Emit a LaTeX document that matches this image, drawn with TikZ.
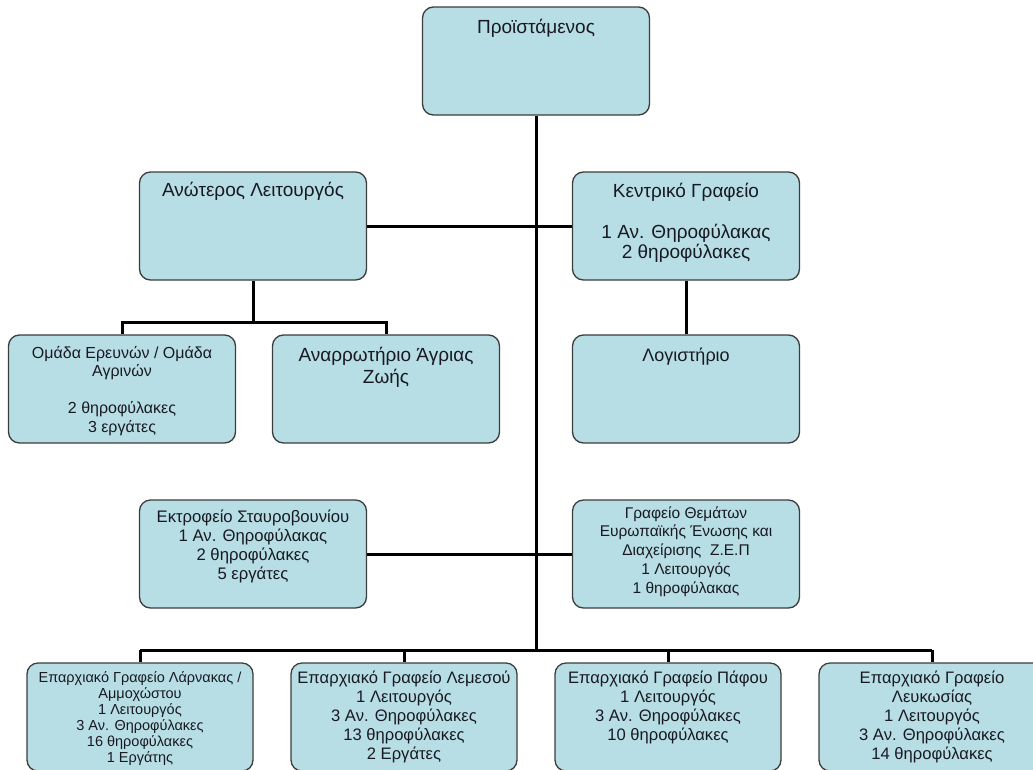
\documentclass[tikz,border=0pt]{standalone}
\usepackage{fontspec}
\setmainfont{Liberation Sans}
\usetikzlibrary{calc}
\definecolor{boxfill}{RGB}{183,222,228}
\definecolor{boxline}{RGB}{60,60,60}
\definecolor{textcol}{RGB}{25,25,35}
\newcommand{\fsz}[2]{\fontsize{#1}{#2}\selectfont}

\begin{document}
\begin{tikzpicture}[x=1pt, y=-1pt, % 1pt = 1px, y は下向き
  box/.style={draw=boxline, fill=boxfill, line width=1.3pt, rounded corners=11pt,
    minimum width=227pt, minimum height=108pt, inner sep=0pt},
  lbl/.style={anchor=north, align=center, inner sep=0pt, text=textcol},
  conn/.style={line width=3pt, black}]
  \useasboundingbox (0,0) rectangle (1033,769); % 余白込みの大きさ

  % 箱
  \node[box] (head) at (536,61) {};
  \node[box] (senior) at (253,226) {};
  \node[box] (central) at (686,226) {};
  \node[box] (team) at (122,389) {};
  \node[box] (infirm) at (386,389) {};
  \node[box] (acct) at (686,389) {};
  \node[box] (hatch) at (253,554) {};
  \node[box] (euro) at (686,554) {};
  \node[box, minimum width=226pt] (lar) at (140,717) {};
  \node[box, minimum width=226pt] (lim) at (404,717) {};
  \node[box, minimum width=226pt] (paf) at (668,717) {};
  \node[box, minimum width=226pt] (lef) at (932,717) {};

  % 分岐点
  \coordinate (busA) at (253,322);
  \coordinate (busB) at (536,650);

  % 線
  \draw[conn] (head.south) -- (head.south |- busB); % 幹
  \draw[conn] (senior.east) -- (central.west);
  \draw[conn] (central.south) -- (acct.north);
  \draw[conn] (senior.south) -- (busA);
  \draw[conn] (team.north) |- (busA) -| (infirm.north);
  \draw[conn] (hatch.east) -- (euro.west);
  \draw[conn] (lar.north |- busB) -- (lef.north |- busB);
  \foreach \n in {lar,lim,paf,lef}
    \draw[conn] (\n.north) -- (\n.north |- busB);

  % 文字
  \node[lbl, font=\fsz{19}{22}] (headt) at ($(head.north)+(0,11.4)$) {\strut Προϊστάμενος};
  \node[lbl, font=\fsz{19}{22}] (seniort) at ($(senior.north)+(0,9.4)$) {\strut Ανώτερος Λειτουργός};
  \node[lbl, font=\fsz{19}{20.5}] (centralt) at ($(central.north)+(0,11.5)$) {\strut Κεντρικό Γραφείο\\ \\1 Αν. Θηροφύλακας\\2 θηροφύλακες};
  \node[lbl, font=\fsz{16}{18.5}] (teamt) at ($(team.north)+(0,10.8)$) {\strut Ομάδα Ερευνών / Ομάδα\\Αγρινών\\ \\2 θηροφύλακες\\3 εργάτες};
  \node[lbl, font=\fsz{19}{22}] (infirmt) at ($(infirm.north)+(0,11.4)$) {\strut Αναρρωτήριο Άγριας\\Ζωής};
  \node[lbl, font=\fsz{18}{20}] (acctt) at ($(acct.north)+(0,12.5)$) {\strut Λογιστήριο};
  \node[lbl, font=\fsz{16.7}{19}] (hatcht) at ($(hatch.north)+(0,9.7)$) {\strut Εκτροφείο Σταυροβουνίου\\1 Αν. Θηροφύλακας\\2 θηροφύλακες\\5 εργάτες};
  \node[lbl, font=\fsz{15.5}{18.8}] (eurot) at ($(euro.north)+(0,5.4)$) {\strut Γραφείο Θεμάτων\\Ευρωπαϊκής Ένωσης και\\Διαχείρισης\ \ Ζ.Ε.Π\\1 Λειτουργός\\1 θηροφύλακας};
  \node[lbl, font=\fsz{14.5}{16}] (lart) at ($(lar.north)+(0,9)$) {\strut Επαρχιακό Γραφείο Λάρνακας /\\Αμμοχώστου\\1 Λειτουργός\\3 Αν. Θηροφύλακες\\16 θηροφύλακες\\1 Εργάτης};
  \node[lbl, font=\fsz{16.6}{19}] (limt) at ($(lim.north)+(0,7.7)$) {\strut Επαρχιακό Γραφείο Λεμεσού\\1 Λειτουργός\\3 Αν. Θηροφύλακες\\13 θηροφύλακες\\2 Εργάτες};
  \node[lbl, font=\fsz{16.6}{19}] (paft) at ($(paf.north)+(0,7.7)$) {\strut Επαρχιακό Γραφείο Πάφου\\1 Λειτουργός\\3 Αν. Θηροφύλακες\\10 θηροφύλακες};
  \node[lbl, font=\fsz{16.6}{19}] (left) at ($(lef.north)+(0,7.7)$) {\strut Επαρχιακό Γραφείο\\Λευκωσίας\\1 Λειτουργός\\3 Αν. Θηροφύλακες\\14 θηροφύλακες};
\end{tikzpicture}
\end{document}
